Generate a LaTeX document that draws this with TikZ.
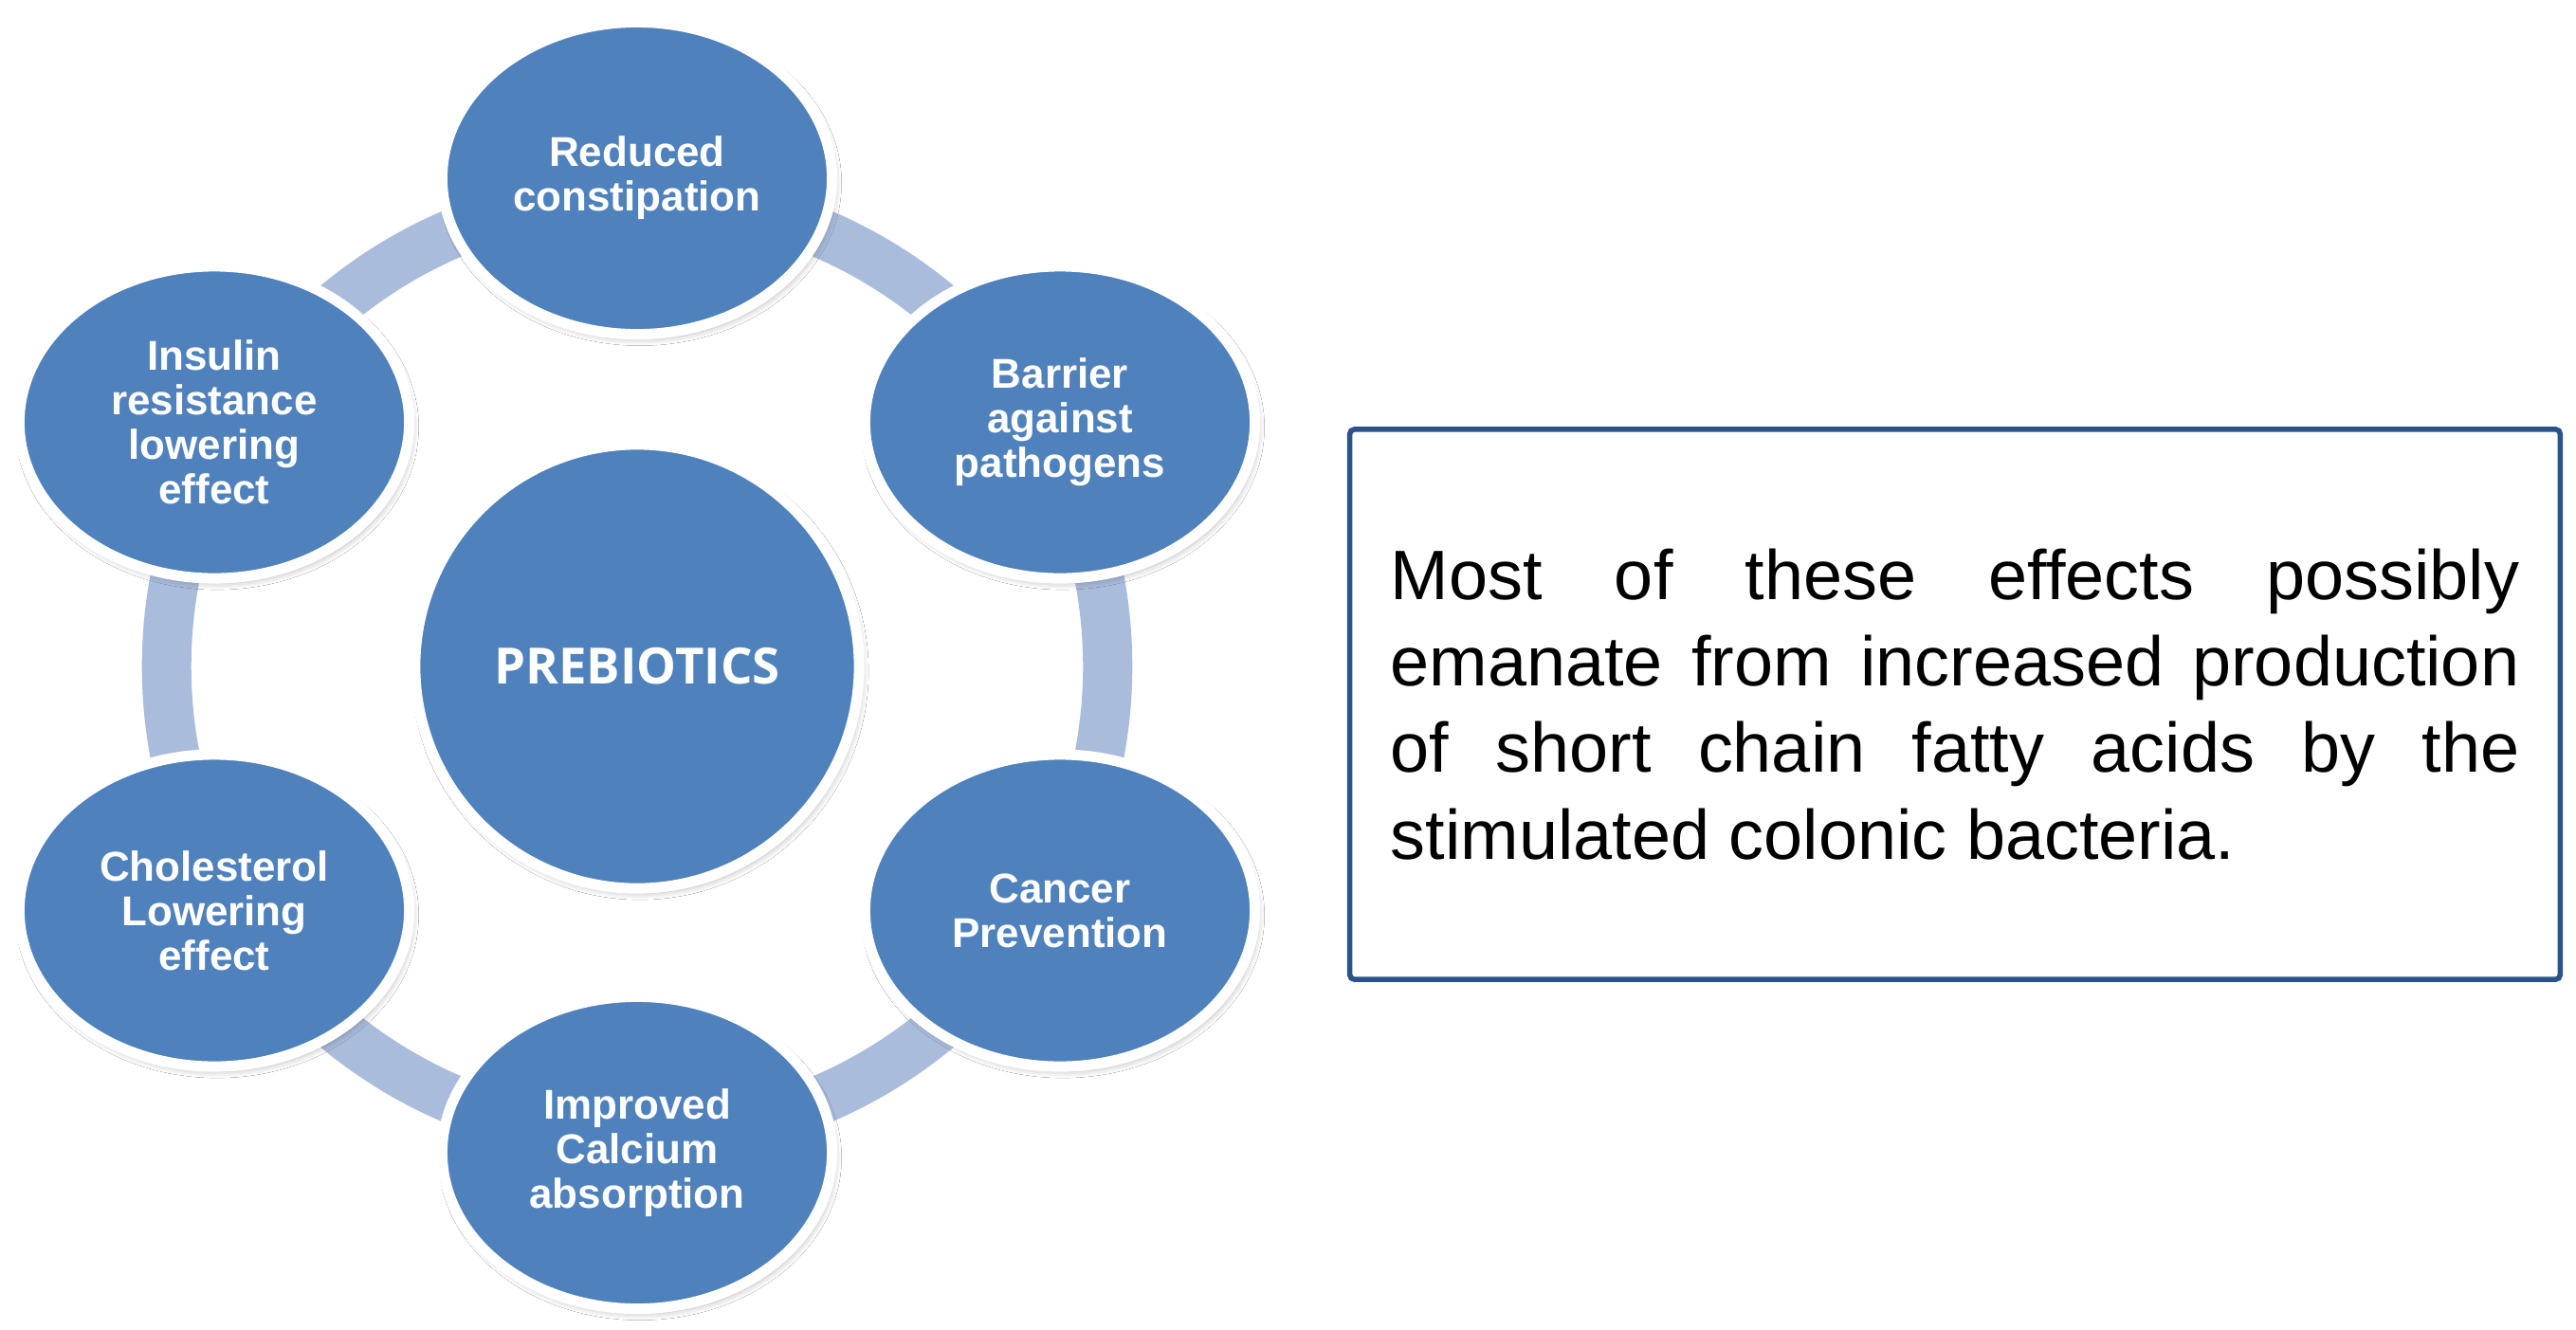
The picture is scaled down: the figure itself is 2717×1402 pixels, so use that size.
\documentclass[tikz,border=0pt]{standalone}
\usepackage{fontspec}
\setmainfont{Liberation Sans}
\newfontfamily\prebfont{Open Sans}
\usetikzlibrary{shapes.geometric,shadows.blur}
\definecolor{nodeblue}{RGB}{79,129,189}
\definecolor{ringblue}{RGB}{170,188,220}
\definecolor{boxblue}{RGB}{44,82,140}
\tikzset{
  softshadow/.style={blur shadow={shadow xshift=0.03cm, shadow yshift=-0.05cm, shadow blur radius=0.07cm, shadow opacity=30}},
  effect/.style={ellipse, fill=nodeblue, draw=white, line width=0.11cm,
    minimum width=4.11cm, minimum height=3.29cm, inner sep=0pt, align=center,
    text=white, font=\fontsize{12.5}{13.4}\selectfont\bfseries, softshadow},
  hub/.style={circle, fill=nodeblue, draw=white, line width=0.11cm,
    minimum size=4.68cm, inner sep=0pt, text=white,
    font=\prebfont\bfseries\fontsize{15}{18}\selectfont, softshadow},
  ring/.style={draw=ringblue, line width=0.52cm},
  notebox/.style={rectangle, draw=boxblue, line width=0.055cm, rounded corners=0.05cm,
    minimum width=12.76cm, minimum height=5.80cm, inner sep=0pt,
    text width=11.9cm, align=justify, font=\fontsize{21}{25.9}\selectfont}
}
\begin{document}
\begin{tikzpicture}[x=0.01cm,y=-0.01cm]
\useasboundingbox[fill=white] (0,0) rectangle (2717,1402);
\coordinate (c) at (672,703);
\draw[ring] (c) circle[radius=4.96cm];
\node[hub] (hub) at (c) {PREBIOTICS};
\node[effect] (top) at (672,188) {Reduced\\constipation};
\node[effect] (barrier) at (1118,445.5) {Barrier\\against\\pathogens};
\node[effect] (cancer) at (1118,960.5) {Cancer\\Prevention};
\node[effect] (calcium) at (672,1216) {Improved\\Calcium\\absorption};
\node[effect] (chol) at (226,960.5) {Cholesterol\\Lowering\\effect};
\node[effect] (insulin) at (226,445.5) {Insulin\\resistance\\lowering\\effect};
\node[notebox] (note) at (2062,743) {Most of these effects possibly\linebreak emanate from increased production\linebreak of short chain fatty acids by the\linebreak stimulated colonic bacteria.};
\end{tikzpicture}
\end{document}
